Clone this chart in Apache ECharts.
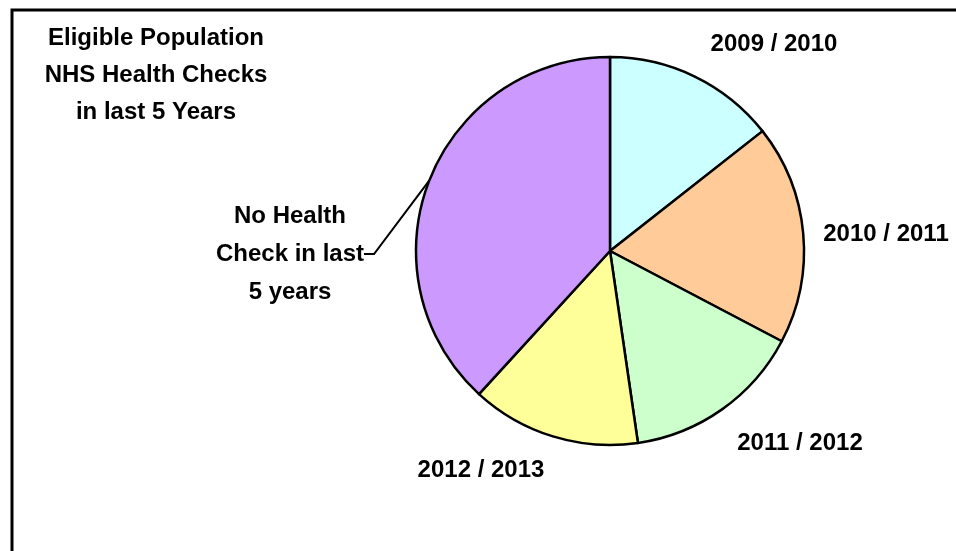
<!DOCTYPE html>
<html>
<head>
<meta charset="utf-8">
<script src="https://cdn.jsdelivr.net/npm/echarts@6/dist/echarts.min.js"></script>
<style>
html,body{margin:0;padding:0;background:#fff;}
#main{width:956px;height:551px;}
</style>
</head>
<body>
<div id="main"></div>
<script>
// 数据
var categories = ['2009 / 2010', '2010 / 2011', '2011 / 2012', '2012 / 2013', 'No Health\nCheck in last\n5 years'];
var values = [14.4, 18.3, 15.0, 14.1, 38.2];
var colors = ['#CCFFFF', '#FFCC99', '#CCFFCC', '#FFFF99', '#CC99FF'];
// 标签中心位置
var labelPos = [[774, 44], [886, 234], [800, 443], [481, 470], [290, 254]];

var chart = echarts.init(document.getElementById('main'));

var pieData = [];
for (var i = 0; i < categories.length; i++) {
	pieData.push({
		name: categories[i],
		value: values[i],
		itemStyle: {color: colors[i]},
		labelLine: {show: i == 4}
	});
}

var option = {
	animation: false,
	title: {
		text: 'Eligible Population\nNHS Health Checks\nin last 5 Years',
		left: 151,
		top: 15,
		textAlign: 'center',
		textStyle: {
			fontFamily: 'Liberation Sans',
			fontWeight: 'bold',
			fontSize: 24,
			lineHeight: 37,
			color: '#000'
		}
	},
	graphic: [{
		type: 'rect',
		shape: {x: 12, y: 10, width: 1000, height: 1000},
		style: {fill: 'none', stroke: '#000', lineWidth: 3},
		silent: true
	}],
	series: [{
		type: 'pie',
		center: [610, 251],
		radius: 194,
		startAngle: 90,
		clockwise: true,
		avoidLabelOverlap: false,
		itemStyle: {borderColor: '#000', borderWidth: 2.5},
		label: {
			show: true,
			position: 'outside',
			fontFamily: 'Liberation Sans',
			fontWeight: 'bold',
			fontSize: 24,
			lineHeight: 38,
			color: '#000',
			align: 'center'
		},
		labelLine: {
			show: false,
			length: 10,
			length2: 10,
			lineStyle: {color: '#000', width: 2}
		},
		labelLayout: function(params){
			var p = labelPos[params.dataIndex];
			return {
				x: p[0],
				y: p[1],
				align: 'center',
				verticalAlign: 'middle'
			};
		},
		data: pieData
	}]
};
chart.setOption(option);
</script>
</body>
</html>
